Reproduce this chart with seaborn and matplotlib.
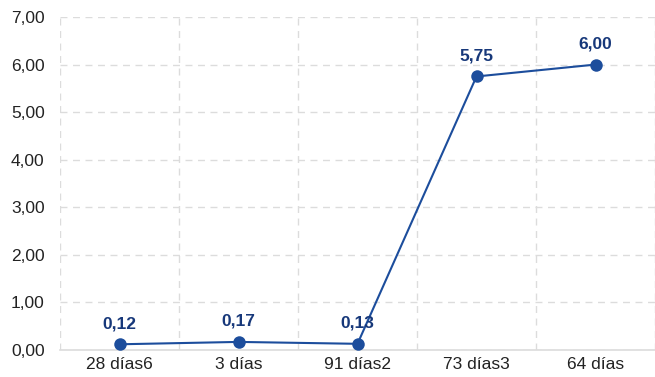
import matplotlib
matplotlib.use("Agg")
import matplotlib.pyplot as plt
from matplotlib.ticker import FixedLocator, FuncFormatter
import seaborn as sns
import pandas as pd

categories = ["28 días6", "3 días", "91 días2", "73 días3", "64 días"]
values = [0.12, 0.17, 0.13, 5.75, 6.00]
y_ticks = [0, 1, 2, 3, 4, 5, 6, 7]

line_color = "#1c4d9c"
label_color = "#17387a"

sns.set_style("white")
plt.rcParams["font.family"] = ["Liberation Sans", "DejaVu Sans"]

df = pd.DataFrame({"cat": categories, "val": values, "pos": range(len(categories))})

fig = plt.figure(figsize=(6.55, 3.77), dpi=100)
ax = fig.add_axes([60 / 655, 1 - 350 / 377, 595 / 655, 333 / 377])

sns.lineplot(data=df, x="pos", y="val", ax=ax, color=line_color, linewidth=1.5,
             marker="o", markersize=9, markeredgewidth=0, zorder=3)

for p, v in zip(df["pos"], df["val"]):
    ax.annotate(f"{v:.2f}".replace(".", ","), (p, v), xytext=(0, 9.5),
                textcoords="offset points", ha="center", va="bottom",
                fontsize=12.5, fontweight="bold", color=label_color, zorder=4)

ax.set_xlim(-0.5, len(categories) - 0.5)
ax.set_ylim(0, 7)
ax.set_xticks(range(len(categories)))
ax.set_xticklabels(categories)
ax.xaxis.set_minor_locator(FixedLocator([i - 0.5 for i in range(len(categories) + 1)]))
ax.set_yticks(y_ticks)
ax.yaxis.set_major_formatter(FuncFormatter(lambda v, _: f"{v:.2f}".replace(".", ",")))

ax.grid(False)
ax.grid(axis="y", which="major", color="#dcdcdc", linestyle=(0, (5, 4)), linewidth=1)
ax.grid(axis="x", which="minor", color="#dcdcdc", linestyle=(0, (5, 4)), linewidth=1)
ax.tick_params(axis="both", which="both", length=0, labelsize=12.5, colors="#222222")
ax.tick_params(axis="x", pad=5)
ax.tick_params(axis="y", pad=11)
ax.set_xlabel("")
ax.set_ylabel("")

for s in ["top", "right", "left"]:
    ax.spines[s].set_visible(False)
ax.spines["bottom"].set_color("#dcdcdc")
ax.spines["bottom"].set_linewidth(1.2)

fig.savefig("out.png", dpi=100)
